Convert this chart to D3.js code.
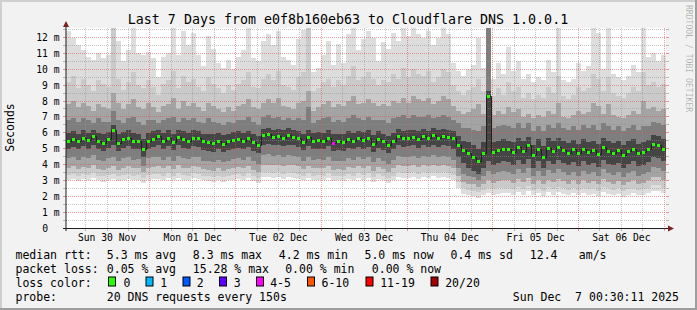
<!DOCTYPE html>
<html>
<head>
<meta charset="utf-8">
<script src="https://cdn.jsdelivr.net/npm/d3@7"></script>
<style>
body { margin: 0; background: #f2f2f2; }
text { font-family: "DejaVu Sans Mono", monospace; }
</style>
</head>
<body>
<div id="chart"></div>
<script>
// ---- data (ms), one value per ~84 min column ----
var median = [
 5.50,5.60,5.45,5.70,5.55,5.80,5.50,5.35,5.60,6.15,5.35,5.60,5.70,5.50,5.50,4.95,5.50,5.60,5.80,5.50,
 5.70,5.40,5.75,5.60,5.50,5.70,5.65,5.45,5.40,5.35,5.50,5.30,5.45,5.55,5.60,5.50,5.65,5.40,5.20,5.85,
 5.90,5.75,5.80,5.70,5.85,5.75,5.65,5.40,5.75,5.50,5.55,5.50,5.70,5.37,5.45,5.40,5.60,5.50,5.65,5.55,
 5.70,5.30,5.60,5.45,5.20,5.50,5.80,5.65,5.70,5.75,5.60,5.80,5.65,5.85,5.70,5.80,5.75,5.65,5.20,4.90,
 4.75,4.50,4.20,4.75,8.30,4.80,4.90,5.00,4.95,4.80,5.10,4.85,5.20,4.60,5.00,4.50,5.05,4.85,5.10,4.90,
 4.75,4.95,4.70,5.00,4.80,4.90,4.65,5.10,4.85,4.75,4.90,4.60,4.85,5.00,4.70,4.80,4.95,5.30,5.25,5.00]
// number of lost pings (of 20) per column
var loss = [
 0,0,0,0,0,0,0,0,0,0,0,0,0,0,0,0,0,0,0,0,
 0,0,0,0,0,0,0,0,0,0,0,0,0,0,0,0,0,0,0,0,
 0,0,0,0,0,0,0,0,0,0,0,0,0,4,0,0,0,0,0,0,
 0,0,0,0,0,0,0,0,0,0,0,0,0,0,0,0,0,0,0,0,
 0,0,0,0,0,0,0,0,0,0,0,0,0,0,0,0,0,0,0,0,
 0,0,0,0,0,0,0,0,0,0,0,0,0,0,0,0,0,0,0,0]
// sorted ping rtts (smoke): ping20 = max ... ping1 = min
var ping20 = [
 12.4,12.0,11.5,11.2,10.8,10.6,11.0,10.7,10.9,12.8,11.8,10.5,11.2,12.6,11.0,10.9,11.1,10.7,9.5,10.8,
 11.0,12.6,10.9,12.4,11.5,12.3,10.9,10.2,12.1,11.3,10.4,10.1,10.6,10.0,10.8,11.2,12.6,10.7,10.5,11.8,
 12.2,11.5,12.4,10.8,10.6,10.3,11.9,12.5,12.8,9.8,10.1,10.9,11.8,10.3,11.6,10.4,12.2,12.8,11.2,11.9,
 12.4,12.0,10.5,11.7,11.3,12.3,11.8,12.8,12.1,12.8,12.2,12.0,12.4,11.5,12.0,12.8,12.2,10.4,9.9,9.6,
 10.0,10.3,12.0,10.1,12.8,9.4,10.4,9.7,11.4,9.9,10.5,9.4,9.7,9.2,9.5,9.3,10.6,9.8,12.8,9.3,
 9.2,9.4,10.4,9.9,10.2,12.8,12.3,10.0,12.6,9.7,9.5,9.3,9.6,10.3,9.8,12.8,10.8,11.0,10.5,10.9]
var ping19 = [
 9.2,9.6,8.8,9.4,9.0,8.6,9.3,9.1,8.9,12.8,9.4,8.7,9.2,9.8,9.0,8.8,9.3,8.9,8.4,9.1,
 9.3,9.9,8.8,9.6,9.2,9.4,8.9,8.6,9.5,9.1,8.8,8.5,9.0,8.7,9.1,9.3,9.8,8.9,8.8,9.4,
 9.7,9.3,9.9,9.0,8.9,8.7,9.5,9.8,12.8,8.6,8.8,9.2,9.4,8.9,9.3,9.0,9.6,10.2,9.3,9.5,
 9.8,9.4,9.0,9.3,9.2,9.7,9.4,10.1,9.5,10.0,9.7,9.6,9.9,9.2,9.5,10.0,9.8,9.0,8.6,8.4,
 8.7,8.9,9.4,8.6,12.8,8.3,8.8,8.4,9.2,8.6,8.9,8.2,8.5,8.1,8.4,8.2,8.9,8.5,9.6,8.3,
 8.1,8.4,8.9,8.6,8.8,9.7,9.4,8.6,9.5,8.5,8.3,8.2,8.5,8.9,8.6,9.8,9.0,9.2,8.9,9.1]
var ping17 = [
 7.8,8.0,7.6,7.9,7.7,7.4,7.8,7.6,7.5,8.5,7.9,7.5,7.8,8.1,7.6,7.5,7.9,7.6,7.3,7.7,
 7.8,8.2,7.5,8.0,7.7,7.9,7.6,7.4,7.9,7.7,7.5,7.3,7.6,7.4,7.7,7.8,8.1,7.6,7.5,7.9,
 8.1,7.9,8.2,7.7,7.6,7.5,7.9,8.0,8.6,7.4,7.6,7.8,8.0,7.6,7.8,7.7,8.0,8.3,7.8,7.9,
 8.1,7.9,7.7,7.8,7.7,8.0,7.9,8.2,7.9,8.3,8.1,8.0,8.2,7.8,8.0,8.3,8.1,7.7,7.4,7.2,
 7.3,7.5,7.8,7.2,12.8,7.1,7.4,7.2,7.6,7.3,7.5,7.0,7.2,6.9,7.1,7.0,7.4,7.2,7.9,7.0,
 6.9,7.1,7.4,7.2,7.3,7.9,7.7,7.2,7.8,7.1,7.0,6.9,7.1,7.4,7.2,8.0,7.5,7.6,7.4,7.5]
var ping15 = [
 6.8,6.9,6.7,6.9,6.8,6.6,6.9,6.7,6.7,7.4,6.8,6.6,6.9,7.0,6.7,6.5,6.8,6.8,6.6,6.8,
 6.9,7.0,6.7,6.9,6.8,6.9,6.7,6.6,6.9,6.7,6.6,6.5,6.7,6.6,6.8,6.8,7.0,6.7,6.5,7.0,
 7.1,6.9,7.0,6.8,6.9,6.8,6.9,6.8,7.6,6.6,6.8,6.9,7.0,6.7,6.8,6.7,6.9,7.1,6.9,6.8,
 7.0,6.8,6.8,6.8,6.6,6.9,7.0,7.1,6.9,7.1,7.0,7.0,7.1,6.9,7.0,7.1,7.0,6.8,6.6,6.3,
 6.3,6.2,6.1,6.4,12.8,6.3,6.4,6.5,6.4,6.3,6.6,6.3,6.6,6.1,6.4,6.1,6.5,6.3,6.6,6.3,
 6.2,6.4,6.2,6.5,6.3,6.5,6.2,6.6,6.4,6.2,6.4,6.1,6.3,6.5,6.2,6.4,6.4,6.7,6.6,6.5]
var ping12 = [
 6.00,6.10,5.95,6.15,6.00,6.20,6.00,5.90,6.05,6.50,5.90,6.05,6.15,6.00,5.95,5.60,6.00,6.10,6.20,6.00,
 6.15,5.90,6.20,6.10,6.00,6.15,6.10,5.95,5.90,5.90,6.00,5.85,5.95,6.05,6.10,6.00,6.10,5.90,5.80,6.25,
 6.30,6.20,6.25,6.15,6.30,6.20,6.10,5.95,6.20,6.00,6.05,6.00,6.15,5.90,5.95,5.90,6.10,6.00,6.10,6.05,
 6.15,5.85,6.10,5.95,5.80,6.00,6.25,6.10,6.15,6.20,6.10,6.25,6.10,6.30,6.15,6.25,6.20,6.10,5.80,5.50,
 5.40,5.20,5.00,5.40,8.60,5.40,5.50,5.60,5.50,5.40,5.70,5.45,5.75,5.25,5.60,5.15,5.65,5.45,5.70,5.50,
 5.35,5.55,5.30,5.60,5.40,5.50,5.30,5.70,5.45,5.35,5.50,5.25,5.45,5.60,5.30,5.40,5.55,5.85,5.80,5.60]
var ping9 = [
 5.00,5.10,4.95,5.15,5.00,5.20,4.95,4.85,5.05,5.20,4.85,5.05,5.15,4.95,5.00,4.50,5.00,5.10,5.20,4.95,
 5.15,4.90,5.20,5.05,5.00,5.15,5.10,4.90,4.85,4.80,4.95,4.80,4.90,5.00,5.05,4.95,5.10,4.85,4.70,5.25,
 5.30,5.20,5.25,5.15,5.25,5.20,5.10,4.90,5.15,4.95,5.00,4.95,5.15,4.85,4.90,4.85,5.05,4.95,5.10,5.00,
 5.10,4.80,5.05,4.90,4.70,4.95,5.20,5.10,5.15,5.20,5.05,5.20,5.10,5.25,5.10,5.20,5.15,5.00,4.50,4.10,
 3.80,3.60,3.40,3.80,4.20,4.00,4.10,4.20,4.15,4.00,4.30,4.05,4.35,3.80,4.20,3.75,4.25,4.05,4.30,4.10,
 3.95,4.15,3.90,4.20,4.00,4.10,3.85,4.30,4.05,3.95,4.10,3.80,4.05,4.20,3.90,4.00,4.15,4.45,4.40,4.20]
var ping6 = [
 4.40,4.50,4.30,4.50,4.40,4.60,4.30,4.20,4.40,4.50,4.20,4.40,4.50,4.30,4.35,3.90,4.40,4.45,4.50,4.30,
 4.50,4.25,4.55,4.40,4.35,4.50,4.45,4.25,4.20,4.15,4.30,4.15,4.25,4.35,4.40,4.30,4.45,4.20,4.05,4.60,
 4.65,4.55,4.60,4.50,4.60,4.55,4.45,4.25,4.50,4.30,4.35,4.30,4.50,4.20,4.25,4.20,4.40,4.30,4.45,4.35,
 4.45,4.15,4.40,4.25,4.05,4.30,4.55,4.45,4.50,4.55,4.40,4.55,4.45,4.60,4.45,4.55,4.50,4.30,3.80,3.40,
 3.30,3.20,3.00,3.30,3.60,3.40,3.50,3.60,3.55,3.40,3.70,3.45,3.75,3.30,3.60,3.25,3.65,3.45,3.70,3.50,
 3.35,3.55,3.30,3.60,3.40,3.50,3.25,3.70,3.45,3.35,3.50,3.20,3.45,3.60,3.30,3.40,3.55,3.85,3.80,3.60]
var ping4 = [
 3.80,3.90,3.70,3.85,3.80,3.95,3.70,3.65,3.80,3.90,3.65,3.80,3.90,3.75,3.80,3.50,3.80,3.85,3.90,3.75,
 3.90,3.70,3.95,3.80,3.75,3.90,3.85,3.70,3.65,3.60,3.75,3.60,3.70,3.80,3.85,3.75,3.90,3.65,3.55,4.00,
 4.00,3.95,4.00,3.90,4.00,3.95,3.90,3.70,3.90,3.75,3.80,3.75,3.90,3.65,3.70,3.65,3.85,3.75,3.90,3.80,
 3.90,3.60,3.85,3.70,3.55,3.75,3.95,3.90,3.90,3.95,3.85,3.95,3.90,4.00,3.90,3.95,3.90,3.75,3.30,2.90,
 2.80,2.75,2.60,2.80,3.00,2.85,2.95,3.00,3.00,2.85,3.10,2.90,3.15,2.80,3.00,2.75,3.05,2.90,3.10,2.95,
 2.80,3.00,2.80,3.00,2.85,2.95,2.75,3.10,2.90,2.80,2.95,2.70,2.90,3.00,2.80,2.85,3.00,3.20,3.20,3.00]
var ping2 = [
 3.35,3.40,3.30,3.40,3.35,3.45,3.30,3.25,3.35,3.40,3.25,3.35,3.40,3.30,3.35,3.15,3.35,3.40,3.40,3.30,
 3.45,3.30,3.45,3.35,3.30,3.45,3.40,3.30,3.25,3.20,3.30,3.20,3.30,3.35,3.40,3.30,3.45,3.25,3.15,3.50,
 3.50,3.45,3.50,3.40,3.50,3.45,3.40,3.30,3.45,3.30,3.35,3.30,3.45,3.25,3.30,3.25,3.40,3.30,3.45,3.35,
 3.45,3.20,3.40,3.30,3.15,3.30,3.50,3.45,3.45,3.50,3.40,3.50,3.45,3.55,3.45,3.50,3.45,3.35,2.90,2.50,
 2.40,2.35,2.25,2.40,2.55,2.45,2.50,2.55,2.55,2.45,2.60,2.45,2.65,2.40,2.55,2.35,2.60,2.45,2.60,2.50,
 2.40,2.55,2.40,2.55,2.45,2.50,2.35,2.60,2.50,2.40,2.50,2.30,2.45,2.55,2.40,2.45,2.55,2.70,2.70,2.55]
var ping1 = [
 3.05,3.10,2.95,3.10,3.00,3.15,3.00,2.90,3.05,3.10,2.95,3.05,3.10,3.00,3.05,2.85,3.05,3.10,3.10,3.00,
 3.15,3.00,3.15,3.05,3.00,3.15,3.10,3.00,2.95,2.90,3.00,2.90,3.00,3.05,3.10,3.00,3.15,2.95,2.85,3.20,
 3.20,3.15,3.20,3.10,3.20,3.15,3.10,3.00,3.15,3.00,3.05,3.00,3.15,2.95,3.00,2.95,3.10,3.00,3.15,3.05,
 3.15,2.90,3.10,3.00,2.85,3.00,3.20,3.15,3.15,3.20,3.10,3.20,3.15,3.25,3.15,3.20,3.15,3.05,2.50,2.15,
 2.05,2.00,1.90,2.05,2.20,2.10,2.15,2.20,2.20,2.10,2.25,2.10,2.30,2.05,2.20,2.00,2.25,2.10,2.25,2.15,
 2.05,2.20,2.05,2.20,2.10,2.15,2.00,2.25,2.15,2.05,2.15,1.95,2.10,2.20,2.05,2.10,2.20,2.35,2.35,2.20]

var dayLabels = ["Sun 30 Nov","Mon 01 Dec","Tue 02 Dec","Wed 03 Dec","Thu 04 Dec","Fri 05 Dec","Sat 06 Dec"]
var yTickVals = [0,1,2,3,4,5,6,7,8,9,10,11,12]
var yTickLabels = ["0","1 m","2 m","3 m","4 m","5 m","6 m","7 m","8 m","9 m","10 m","11 m","12 m"]
var lossClasses = ["0","1","2","3","4-5","6-10","11-19","20/20"]
var lossColors = ["#26ff00","#00b8ff","#0059ff","#5e00ff","#ff00ff","#ff5500","#ff0000","#a00000"]
var rttStats = ["5.3 ms avg","8.3 ms max","4.2 ms min","5.0 ms now","0.4 ms sd","12.4","am/s"]
var lossStats = ["0.05 % avg","15.28 % max","0.00 % min","0.00 % now"]
var title = "Last 7 Days from e0f8b160eb63 to Cloudflare DNS 1.0.0.1"
var probeText = "20 DNS requests every 150s"
var stampText = "Sun Dec\u00a0 7 00:30:11 2025"

var tStart = new Date(2025,10,30,0,30,11), tEnd = new Date(2025,11,7,0,30,11)

drawChart()

function drawChart(){
    var W = 697, H = 310
    var pL = 66, pR = 666, pT = 28, pB = 228

    var svg = d3.select("#chart").append("svg").attr("width",W).attr("height",H)

    // frame shading
    svg.append("rect").attr("x",0).attr("y",0).attr("width",W).attr("height",H).attr("fill","#f2f2f2")
    svg.append("path").attr("d","M0,0H"+W+"V2H2V"+H+"H0Z").attr("fill","#cfcfcf")
    svg.append("path").attr("d","M"+W+",0V"+H+"H0V"+(H-2)+"H"+(W-2)+"V0Z").attr("fill","#9e9e9e")

    var x = d3.scaleTime().domain([tStart,tEnd]).range([pL,pR])
    var y = d3.scaleLinear().domain([0,12.6]).range([pB,pT])

    svg.append("rect").attr("x",pL).attr("y",pT).attr("width",pR-pL).attr("height",pB-pT).attr("fill","#ffffff")

    svg.append("clipPath").attr("id","plotclip").append("rect")
        .attr("x",pL).attr("y",pT).attr("width",pR-pL).attr("height",pB-pT)

    var n = median.length
    var step = (tEnd - tStart) / n
    function colTime(i){ return new Date(+tStart + i*step) }

    // smoke: outer (light) bands first, inner (dark) on top
    var bands = [
        [ping1, ping20, "#dddddd"],
        [ping2, ping19, "#cacaca"],
        [ping4, ping17, "#a4a4a4"],
        [ping6, ping15, "#7e7e7e"],
        [ping9, ping12, "#454545"]
    ]
    var smoke = svg.append("g").attr("clip-path","url(#plotclip)").attr("shape-rendering","crispEdges")
    bands.forEach(function(b){
        smoke.append("g").selectAll("rect")
            .data(d3.range(n)).enter().append("rect")
            .attr("x", function(i){ return Math.round(x(colTime(i))) })
            .attr("width", function(i){ return Math.round(x(colTime(i+1))) - Math.round(x(colTime(i))) })
            .attr("y", function(i){ return Math.round(y(b[1][i])) })
            .attr("height", function(i){ return Math.max(0, Math.round(y(b[0][i])) - Math.round(y(b[1][i]))) })
            .attr("fill", b[2])
    })

    // grid
    var grid = svg.append("g")
    var minorY = d3.range(1,26,2).map(function(k){ return k/2 })
    minorY.forEach(function(v){
        var yy = Math.floor(y(v)) + 0.5
        grid.append("line").attr("x1",pL).attr("x2",pR).attr("y1",yy).attr("y2",yy)
            .attr("stroke","#8f8f8f").attr("stroke-opacity",0.5).attr("stroke-dasharray","1,1")
        grid.append("line").attr("x1",pL-3).attr("x2",pL).attr("y1",yy).attr("y2",yy).attr("stroke","#8f8f8f").attr("stroke-opacity",0.6)
        grid.append("line").attr("x1",pR).attr("x2",pR+3).attr("y1",yy).attr("y2",yy).attr("stroke","#8f8f8f").attr("stroke-opacity",0.6)
    })
    yTickVals.slice(1).forEach(function(v){
        var yy = Math.floor(y(v)) + 0.5
        grid.append("line").attr("x1",pL).attr("x2",pR).attr("y1",yy).attr("y2",yy)
            .attr("stroke","#de5050").attr("stroke-opacity",0.55).attr("stroke-dasharray","1,1")
        grid.append("line").attr("x1",pL-3).attr("x2",pL).attr("y1",yy).attr("y2",yy).attr("stroke","#de5050").attr("stroke-opacity",0.6)
        grid.append("line").attr("x1",pR).attr("x2",pR+3).attr("y1",yy).attr("y2",yy).attr("stroke","#de5050").attr("stroke-opacity",0.6)
    })
    d3.timeHour.every(6).range(tStart, tEnd).forEach(function(t){
        var xx = Math.floor(x(t)) + 0.5
        var major = t.getHours() === 0
        grid.append("line").attr("x1",xx).attr("x2",xx).attr("y1",pT).attr("y2",pB)
            .attr("stroke", major ? "#de5050" : "#8f8f8f")
            .attr("stroke-opacity", major ? 0.55 : 0.5).attr("stroke-dasharray","1,1")
        grid.append("line").attr("x1",xx).attr("x2",xx).attr("y1",pB).attr("y2",pB+3)
            .attr("stroke", major ? "#de5050" : "#8f8f8f").attr("stroke-opacity",0.6)
    })

    // median line + loss-coloured dots
    var pts = median.map(function(v,i){ return [colTime(i), v] })
    pts.push([tEnd, median[n-1]])
    svg.append("path").datum(pts)
        .attr("clip-path","url(#plotclip)")
        .attr("d", d3.line().x(function(d){ return Math.round(x(d[0])) + 0.5 }).y(function(d){ return Math.round(y(d[1])) + 0.5 }).curve(d3.curveStepAfter))
        .attr("fill","none").attr("stroke","#202020").attr("stroke-width",1)

    function lossClass(c){
        if (c <= 3) return c
        if (c <= 5) return 4
        if (c <= 10) return 5
        if (c <= 19) return 6
        return 7
    }
    svg.append("g").attr("shape-rendering","crispEdges").selectAll("rect")
        .data(median).enter().append("rect")
        .attr("x", function(d,i){ return Math.round(x(colTime(i))) + 1 })
        .attr("width", 3)
        .attr("y", function(d){ return Math.round(y(d)) - 1 })
        .attr("height", 3)
        .attr("fill", function(d,i){ return lossColors[lossClass(loss[i])] })

    // axes
    svg.append("line").attr("x1",pL-3).attr("x2",pR+2).attr("y1",pB+0.5).attr("y2",pB+0.5).attr("stroke","#1f1f1f")
    svg.append("line").attr("x1",pL).attr("x2",pL).attr("y1",pB+3).attr("y2",pT-2).attr("stroke","#1f1f1f")
    svg.append("path").attr("d","M"+(pL-3)+","+(pT-1)+"L"+(pL+3)+","+(pT-1)+"L"+pL+","+(pT-7)+"Z").attr("fill","#7f1f1f")
    svg.append("path").attr("d","M"+(pR+2)+","+(pB-2.5)+"L"+(pR+2)+","+(pB+3.5)+"L"+(pR+8)+","+(pB+0.5)+"Z").attr("fill","#7f1f1f")

    // y labels
    yTickVals.forEach(function(v,i){
        svg.append("text").attr("x", v === 0 ? 48 : 59.5).attr("y", y(v) + 3.5)
            .attr("text-anchor","end").attr("font-size","9.7px").attr("fill","#000").text(yTickLabels[i])
    })
    // x labels at noon
    var day0 = d3.timeDay.floor(tStart)
    dayLabels.forEach(function(lab,i){
        svg.append("text").attr("x", x(d3.timeHour.offset(day0, 12 + 24*i))).attr("y", 241.4)
            .attr("text-anchor","middle").attr("font-size","9.7px").attr("fill","#000").text(lab)
    })

    // title, axis title, watermark
    svg.append("text").attr("x",348).attr("y",23.7).attr("text-anchor","middle").attr("font-size","13.3px").text(title)
    svg.append("text").attr("transform","translate(14,127.5) rotate(-90)").attr("text-anchor","middle").attr("font-size","11.5px").text("Seconds")
    svg.append("text").attr("transform","translate(686,5) rotate(90)").attr("font-size","8.1px").attr("fill","#000").attr("fill-opacity",0.28).text("RRDTOOL / TOBI OETIKER")

    // legend
    var lg = svg.append("g").attr("font-size","11.5px").attr("fill","#000")
    var rows = [259, 272.9, 286.8, 300.7]
    ;["median rtt:","packet loss:","loss color:","probe:"].forEach(function(s,i){
        lg.append("text").attr("x",15.5).attr("y",rows[i]).text(s)
    })
    var rttX = [106.8,192.8,278.8,364.5,450.5,529.8,578.8]
    rttStats.forEach(function(s,i){ lg.append("text").attr("x",rttX[i]).attr("y",rows[0]).text(s) })
    var lossX = [106.8,192.8,285.2,371.8]
    lossStats.forEach(function(s,i){ lg.append("text").attr("x",lossX[i]).attr("y",rows[1]).text(s) })
    var boxX = [108.5,146,183,219.5,256.5,307.5,366,431]
    var labX = [123.5,160.2,196.8,233.8,270.2,321.5,380.2,445.2]
    lossClasses.forEach(function(s,i){
        lg.append("rect").attr("x",boxX[i]).attr("y",277).attr("width",7).attr("height",9)
            .attr("fill",lossColors[i]).attr("stroke","#000").attr("stroke-width",1)
        lg.append("text").attr("x",labX[i]).attr("y",rows[2]).text(s)
    })
    lg.append("text").attr("x",106.8).attr("y",rows[3]).text(probeText)
    lg.append("text").attr("x",512.8).attr("y",rows[3]).text(stampText)
}
</script>
</body>
</html>
